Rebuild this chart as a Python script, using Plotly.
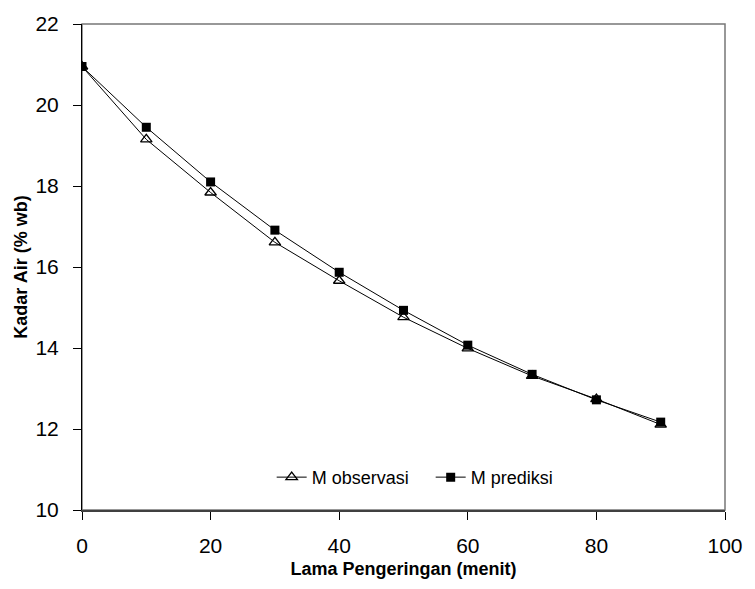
import plotly.graph_objects as go

time_min = [0, 10, 20, 30, 40, 50, 60, 70, 80, 90]
m_observasi = [20.95, 19.15, 17.84, 16.61, 15.66, 14.76, 13.99, 13.31, 12.74, 12.11]
m_prediksi = [20.95, 19.45, 18.10, 16.91, 15.87, 14.93, 14.07, 13.35, 12.72, 12.17]

x_ticks = [0, 20, 40, 60, 80, 100]
y_ticks = [10, 12, 14, 16, 18, 20, 22]

fig = go.Figure()
fig.add_trace(go.Scatter(
    x=time_min, y=m_observasi, name="M observasi", mode="lines+markers",
    line=dict(color="black", width=1),
    marker=dict(symbol="triangle-up-open", size=10, color="black", line=dict(width=1.3, color="black")),
))
fig.add_trace(go.Scatter(
    x=time_min, y=m_prediksi, name="M prediksi", mode="lines+markers",
    line=dict(color="black", width=1),
    marker=dict(symbol="square", size=9, color="black"),
))

# plot frame (grey top/right)
fig.add_shape(type="rect", xref="paper", yref="paper", x0=0, y0=0, x1=1, y1=1,
              line=dict(color="#777777", width=1.5), layer="below")

fig.update_layout(
    width=755, height=589,
    margin=dict(l=82, r=22, t=21, b=79),
    paper_bgcolor="white", plot_bgcolor="white",
    font=dict(family="Liberation Sans, Arial, sans-serif", color="black"),
    showlegend=True,
    legend=dict(orientation="h", x=0.295, y=0.067, xanchor="left", yanchor="middle",
                bgcolor="rgba(0,0,0,0)", font=dict(size=18), itemwidth=30,
                entrywidth=114, entrywidthmode="pixels",
                tracegroupgap=0),
    xaxis=dict(range=[0, 100], tickvals=x_ticks, showgrid=False, zeroline=False,
               showline=True, linecolor="#404040", linewidth=2,
               ticks="outside", ticklen=8, tickcolor="black", tickwidth=1,
               tickfont=dict(size=21), ticklabelstandoff=8,
               title=dict(text="<b>Lama Pengeringan (menit)</b>", font=dict(size=18), standoff=6)),
    yaxis=dict(range=[10, 22], tickvals=y_ticks, showgrid=False, zeroline=False,
               showline=True, linecolor="black", linewidth=1,
               ticks="outside", ticklen=8, tickcolor="black", tickwidth=1,
               tickfont=dict(size=21), ticklabelstandoff=10,
               title=dict(text="<b>Kadar Air (% wb)</b>", font=dict(size=18), standoff=3)),
)

fig.write_html("out.html")
